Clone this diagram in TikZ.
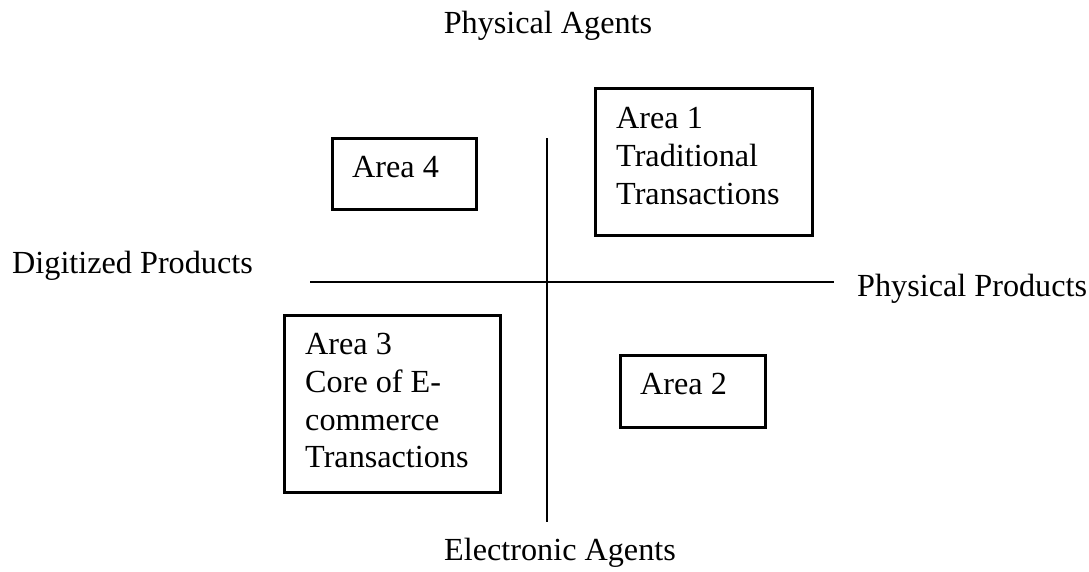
\documentclass[tikz,border=0pt]{standalone}
\usepackage{fontspec}
\setmainfont{Liberation Serif}
\usetikzlibrary{calc}
\begin{document}
\begin{tikzpicture}[x=1pt,y=-1pt,
  lbl/.style={font=\fontsize{32.2}{37.8}\selectfont, inner sep=0pt},
  areatext/.style={lbl, align=left, anchor=north west},
  areabox/.style={draw, line width=2.5pt, inner sep=0pt, anchor=north west},
  axis/.style={line width=2.2pt}]
\useasboundingbox (0,0) rectangle (1089,571);
% axes
\coordinate (vt) at (547,138);
\coordinate (vb) at (547,522);
\coordinate (hl) at (310,282);
\coordinate (hr) at (834,282);
\draw[axis] (vt) -- (vb);
\draw[axis] (hl) -- (hr);
% axis labels
\node[lbl, anchor=base] (pa) at (548,33) {Physical Agents};
\node[lbl, anchor=base] (ea) at (560,560) {Electronic Agents};
\node[lbl, anchor=base west] (dp) at (12,273) {Digitized Products};
\node[lbl, anchor=base west] (pp) at (857,296) {Physical Products};
% boxes
\node[areabox, minimum width=217pt, minimum height=147pt] (b1) at (594,87) {};
\node[areabox, minimum width=145pt, minimum height=72pt] (b2) at (619,354) {};
\node[areabox, minimum width=216pt, minimum height=177pt] (b3) at (283,314) {};
\node[areabox, minimum width=144pt, minimum height=71pt] (b4) at (331,137) {};
% box texts
\node[areatext] (t1) at ($(b1.north west)+(22,20)$) {Area 1\\Traditional\\Transactions};
\node[areatext] (t2) at ($(b2.north west)+(21,19)$) {Area 2};
\node[areatext] (t3) at ($(b3.north west)+(22,19)$) {Area 3\\Core of E-\\commerce\\Transactions};
\node[areatext] (t4) at ($(b4.north west)+(21,19)$) {Area 4};
\end{tikzpicture}
\end{document}
